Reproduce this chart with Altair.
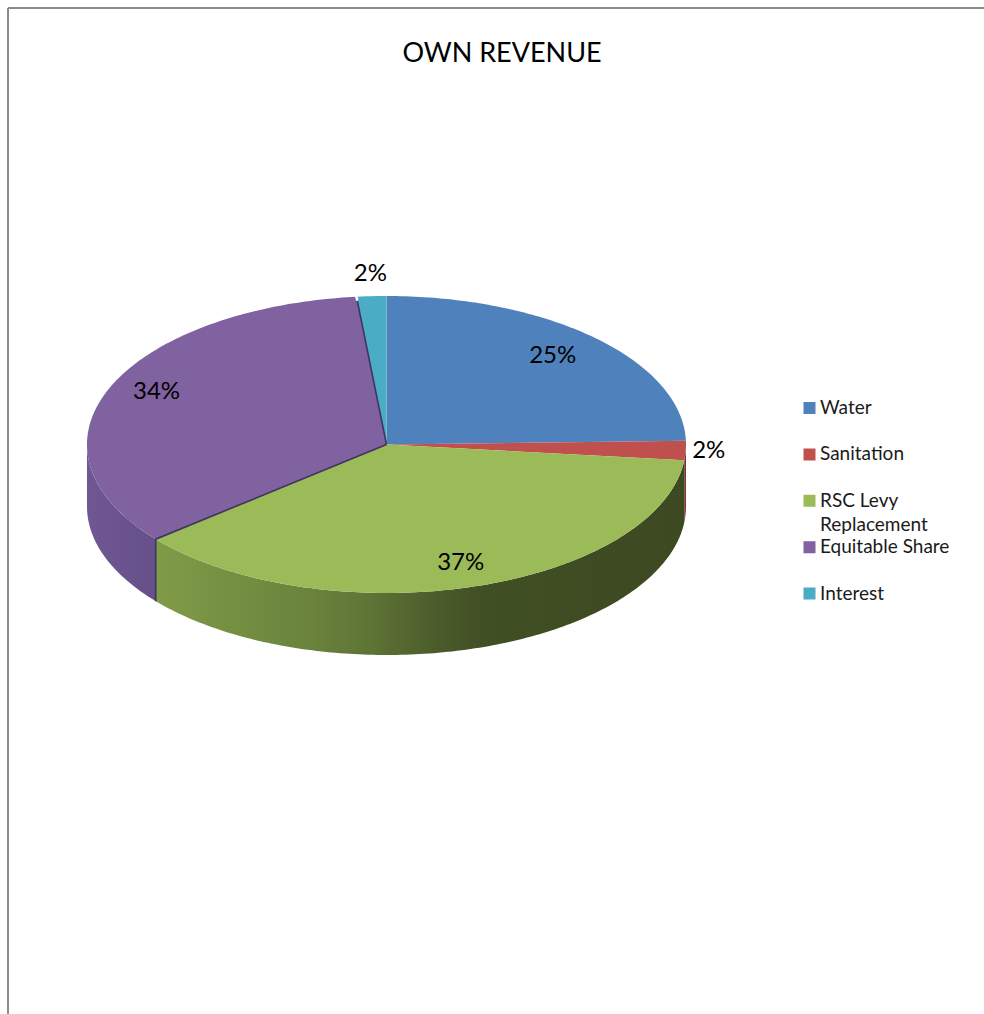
import math
import altair as alt
import pandas as pd

# Revenue sources and their shares, in percent
sources = ["Water", "Sanitation", "RSC Levy Replacement", "Equitable Share", "Interest"]
shares = [24.6, 2.1, 37.3, 34.4, 1.6]
colors = ["#4f81bd", "#c0504d", "#9bbb59", "#7f629f", "#4bacc6"]

# Tilted-disc geometry: page units of the unit circle and the side wall depth
CX, CY, RX, RY, DEPTH = 386.5, 444.5, 299.5, 148.5, 62.0
W, H = 984, 1014

x_scale = alt.Scale(domain=[-CX / RX, (W - CX) / RX], range=[0, W], nice=False, zero=False)
y_scale = alt.Scale(domain=[CY / RY, (CY - H) / RY], range=[0, H], nice=False, zero=False)
wall_drop = DEPTH / RY

# How far along the radius each large slice's label sits (across, down)
label_reach = {
    "Water": (0.795, 0.83),
    "RSC Levy Replacement": (0.86, 0.83),
    "Equitable Share": (0.83, 0.93),
}


def rim(turn):
    """Point of the unit circle, clockwise from twelve o'clock, turn in percent."""
    a = turn / 100 * 2 * math.pi
    return math.sin(a), math.cos(a)


top_rows, wall_rows, label_rows = [], [], []
start = 0.0
boundaries = {}
for name, share in zip(sources, shares):
    end = start + share
    boundaries[name] = (start, end)
    steps = max(6, int(share * 4))
    top_rows.append({"source": name, "i": 0, "x": 0.0, "y": 0.0})
    for k in range(steps + 1):
        px, py = rim(start + share * k / steps)
        top_rows.append({"source": name, "i": k + 1, "x": px, "y": py})
    top_rows.append({"source": name, "i": steps + 2, "x": 0.0, "y": 0.0})

    # Only the front half of the rim shows a wall
    lo, hi = max(start, 25.0), min(end, 75.0)
    if hi > lo:
        n = max(6, int((hi - lo) * 4))
        for k in range(n + 1):
            px, py = rim(lo + (hi - lo) * k / n)
            wall_rows.append({"source": name, "x": px, "y": py, "y2": py - wall_drop})

    px, py = rim(start + share / 2)
    if share < 5:
        # Thin slices carry their label outside the rim
        lx, ly = px * (1 + 23 / RX), py * (1 + 22 / RY)
    else:
        across, down = label_reach[name]
        lx, ly = px * across, py * down
    label_rows.append({"source": name, "share": share / 100, "x": lx, "y": ly})
    start = end

# Dark seams where the slices meet, and the small gap at the back of the rim
ex, ey = rim(boundaries["Equitable Share"][1])
gx, gy = rim(boundaries["Equitable Share"][0])
seam_rows = [
    {"seam": "a", "i": 0, "x": 0.0, "y": 0.0},
    {"seam": "a", "i": 1, "x": ex * 0.97, "y": ey * 0.97},
    {"seam": "b", "i": 0, "x": 0.0, "y": 0.0},
    {"seam": "b", "i": 1, "x": gx, "y": gy},
    {"seam": "b", "i": 2, "x": gx, "y": gy - wall_drop},
]
gap_rows = [
    {"i": 0, "x": ex * 0.975, "y": ey * 0.975},
    {"i": 1, "x": ex * 1.01, "y": ey * 1.01},
]

top = pd.DataFrame(top_rows)
walls = pd.DataFrame(wall_rows)
labels = pd.DataFrame(label_rows)
seams = pd.DataFrame(seam_rows)
gap = pd.DataFrame(gap_rows)

X = alt.X("x:Q", scale=x_scale, axis=None)
Y = alt.Y("y:Q", scale=y_scale, axis=None)

wall_shades = {
    "Sanitation": [(0.0, "#7a3432"), (1.0, "#7a3432")],
    "RSC Levy Replacement": [
        (0.0, "#809b48"), (0.28, "#6b843d"), (0.40, "#5f7536"),
        (0.54, "#4a5a2a"), (0.62, "#414f24"), (1.0, "#3d4921"),
    ],
    "Equitable Share": [(0.0, "#6f5792"), (1.0, "#66508a")],
}

wall_layers = [
    alt.Chart(walls[walls.source == name])
    .mark_area(
        color=alt.Gradient(
            gradient="linear",
            stops=[alt.GradientStop(offset=o, color=c) for o, c in stops],
            x1=0, x2=1, y1=0, y2=0,
        )
    )
    .encode(x=X, y=Y, y2="y2:Q")
    for name, stops in wall_shades.items()
]

faces = (
    alt.Chart(top)
    .mark_line(strokeWidth=0, interpolate="linear")
    .encode(
        x=X,
        y=Y,
        order="i:Q",
        fill=alt.Fill(
            "source:N",
            scale=alt.Scale(domain=sources, range=colors),
            legend=alt.Legend(
                title=None,
                orient="none",
                legendX=800,
                legendY=398,
                symbolType="square",
                symbolSize=144,
                symbolStrokeWidth=0,
                labelFont="Lato",
                labelFontSize=19,
                labelColor="#1a1a1a",
                labelOffset=1,
                labelLimit=200,
                clipHeight=20,
                rowPadding=26.4,
                labelExpr="datum.label == 'RSC Levy Replacement' ? 'RSC Levy' : datum.label",
            ),
        ),
    )
)

# Second line of the wrapped legend entry
legend_wrap = (
    alt.Chart(labels[labels.source == "RSC Levy Replacement"])
    .transform_calculate(wrapped="'Replacement'")
    .mark_text(font="Lato", fontSize=19, color="#1a1a1a", align="left", baseline="middle")
    .encode(x=alt.value(820), y=alt.value(525), text="wrapped:N")
)

seam_lines = (
    alt.Chart(seams)
    .mark_line(color="#3f3560", strokeWidth=1.6)
    .encode(x=X, y=Y, order="i:Q", detail="seam:N")
)

gap_line = (
    alt.Chart(gap)
    .mark_line(color="#ffffff", strokeWidth=2.5)
    .encode(x=X, y=Y, order="i:Q")
)

text = (
    alt.Chart(labels)
    .mark_text(font="Lato", fontSize=24, color="#000000", baseline="middle", align="center")
    .encode(x=X, y=Y, text=alt.Text("share:Q", format=".0%"))
)

frame_left = alt.Chart(labels).mark_rule(color="#8a8a8a", strokeWidth=2).encode(
    x=alt.value(8), y=alt.value(8), y2=alt.value(H)
)
frame_top = alt.Chart(labels).mark_rule(color="#8a8a8a", strokeWidth=2).encode(
    x=alt.value(8), x2=alt.value(W), y=alt.value(8)
)

chart = (
    alt.layer(*wall_layers, faces, seam_lines, gap_line, text, legend_wrap, frame_left, frame_top)
    .properties(
        width=W,
        height=H,
        padding=0,
        autosize=alt.AutoSizeParams(type="none"),
        background="#ffffff",
        title=alt.TitleParams(
            "OWN REVENUE",
            font="Lato",
            fontSize=27,
            fontWeight="normal",
            color="#000000",
            anchor="middle",
            dx=10,
            dy=72,
        ),
    )
    .configure_view(stroke=None)
)

chart.save("out.html", embed_options={"renderer": "svg", "actions": False})
